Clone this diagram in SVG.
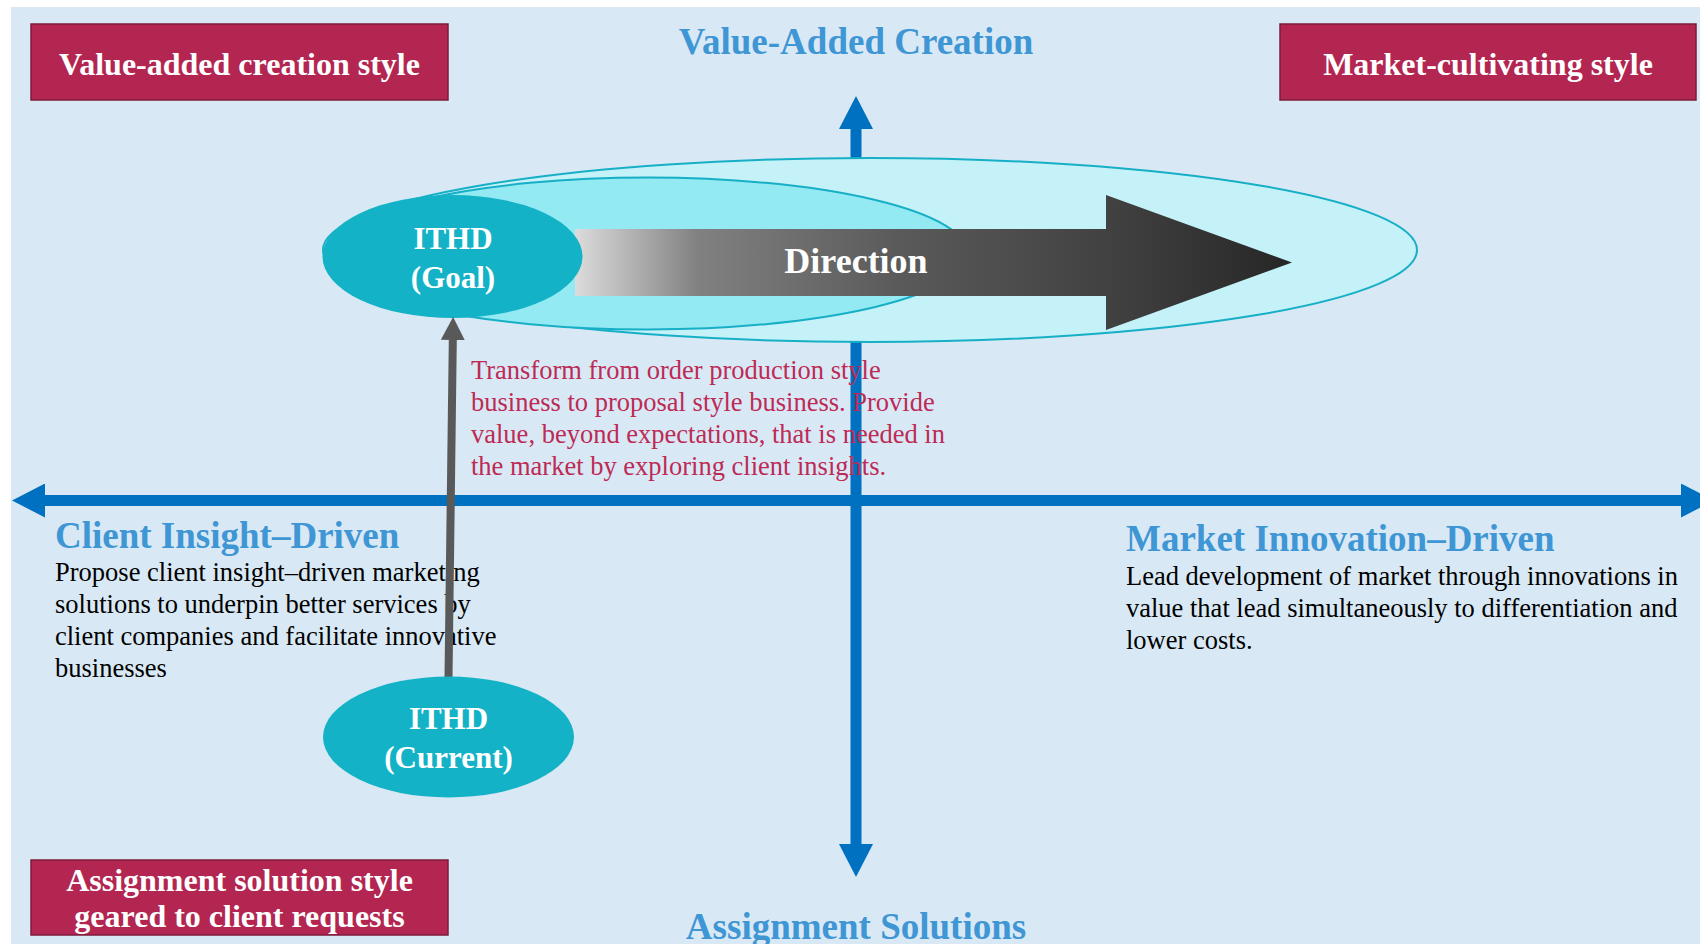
<svg xmlns="http://www.w3.org/2000/svg" width="1700" height="944" viewBox="0 0 1700 944">
  <defs>
    <style>
      .serif { font-family: "Liberation Serif", "Times New Roman", serif; }
      .boxr { fill: #B22651; stroke: #7E1B3B; stroke-width: 1.5; }
      .boxt { font-family: "Liberation Serif", serif; font-weight: bold; font-size: 32px; fill: #FFFFFF; text-anchor: middle; }
      .ithd { font-family: "Liberation Serif", serif; font-weight: bold; font-size: 31px; fill: #FFFFFF; text-anchor: middle; }
      .head { font-family: "Liberation Serif", serif; font-weight: bold; font-size: 37px; fill: #3F96D4; }
      .body { font-family: "Liberation Serif", serif; font-size: 26.5px; fill: #000000; }
      .red { font-family: "Liberation Serif", serif; font-size: 26.5px; fill: #BE2A56; }
      .axis { stroke: #0070C0; stroke-width: 11; fill: none; }
      .node { fill: #13B2C6; }
    </style>
    <marker id="axisHead" markerUnits="userSpaceOnUse" viewBox="0 0 33 34" markerWidth="33" markerHeight="34" refX="0" refY="17" orient="auto-start-reverse">
      <path d="M0,0 L33,17 L0,34 Z" fill="#0070C0"/>
    </marker>
    <marker id="grayHead" markerUnits="userSpaceOnUse" viewBox="0 0 23 24" markerWidth="23" markerHeight="24" refX="0" refY="12" orient="auto">
      <path d="M0,0 L23,12 L0,24 Z" fill="#595959"/>
    </marker>
    <linearGradient id="dirGrad" gradientUnits="userSpaceOnUse" x1="575" y1="0" x2="1292" y2="0">
      <stop offset="0" stop-color="#DCDCDC"/>
      <stop offset="0.17" stop-color="#818181"/>
      <stop offset="0.45" stop-color="#5A5A5A"/>
      <stop offset="0.75" stop-color="#414141"/>
      <stop offset="1" stop-color="#262626"/>
    </linearGradient>
  </defs>

  <rect x="0" y="0" width="1700" height="944" fill="#FFFFFF"/>
  <rect x="11" y="7" width="1689" height="937" fill="#D8E9F5"/>

  <g id="connectors">
    <line id="axis-vertical" class="axis" x1="856" y1="129" x2="856" y2="844" marker-start="url(#axisHead)" marker-end="url(#axisHead)"/>
    <line id="axis-horizontal" class="axis" x1="45" y1="500.5" x2="1681" y2="500.5" marker-start="url(#axisHead)" marker-end="url(#axisHead)"/>
  </g>

  <g id="outer-zone">
    <ellipse cx="870" cy="250" rx="547" ry="92" fill="#C5F1F8" stroke="#17AFC6" stroke-width="2"/>
  </g>
  <g id="inner-zone">
    <ellipse cx="648" cy="253.5" rx="320" ry="76" fill="#93EAF3" stroke="#17AFC6" stroke-width="2"/>
  </g>

  <g id="direction">
    <polygon points="575,229 1106,229 1106,195 1292,262.5 1106,330 1106,296 575,296" fill="url(#dirGrad)"/>
    <text class="serif" x="856" y="273" font-size="36" font-weight="bold" fill="#FFFFFF" text-anchor="middle">Direction</text>
  </g>

  <g id="ithd-goal">
    <ellipse class="node" cx="452.5" cy="256.5" rx="130" ry="61.5"/>
    <text class="ithd" x="453" y="249">ITHD</text>
    <text class="ithd" x="453" y="288">(Goal)</text>
  </g>

  <g id="box-value-added">
    <rect class="boxr" x="31" y="24" width="417" height="76"/>
    <text class="boxt" x="239.5" y="75">Value-added creation style</text>
  </g>
  <g id="box-market-cultivating">
    <rect class="boxr" x="1280" y="24" width="416" height="76"/>
    <text class="boxt" x="1488" y="75">Market-cultivating style</text>
  </g>
  <g id="box-assignment">
    <rect class="boxr" x="31" y="860" width="417" height="75"/>
    <text class="boxt" x="239.5" y="891">Assignment solution style</text>
    <text class="boxt" x="239.5" y="927">geared to client requests</text>
  </g>

  <g id="label-value-added-creation">
    <text class="head" x="856" y="54" text-anchor="middle">Value-Added Creation</text>
  </g>
  <g id="label-assignment-solutions">
    <text class="head" x="856" y="939" text-anchor="middle">Assignment Solutions</text>
  </g>

  <g id="transform-note">
    <text class="red" x="471" y="379">Transform from order production style</text>
    <text class="red" x="471" y="411">business to proposal style business. Provide</text>
    <text class="red" x="471" y="443">value, beyond expectations, that is needed in</text>
    <text class="red" x="471" y="475">the market by exploring client insights.</text>
  </g>

  <g id="client-insight">
    <text class="head" x="55" y="548">Client Insight–Driven</text>
    <text class="body" x="55" y="581">Propose client insight–driven marketing</text>
    <text class="body" x="55" y="613">solutions to underpin better services by</text>
    <text class="body" x="55" y="645">client companies and facilitate innovative</text>
    <text class="body" x="55" y="677">businesses</text>
  </g>

  <g id="market-innovation">
    <text class="head" x="1126" y="551">Market Innovation–Driven</text>
    <text class="body" x="1126" y="585">Lead development of market through innovations in</text>
    <text class="body" x="1126" y="617">value that lead simultaneously to differentiation and</text>
    <text class="body" x="1126" y="649">lower costs.</text>
  </g>

  <g id="connector-current-goal">
    <line x1="448.5" y1="678" x2="452.8" y2="340" stroke="#595959" stroke-width="8" marker-end="url(#grayHead)"/>
  </g>

  <g id="ithd-current">
    <ellipse class="node" cx="448.5" cy="737" rx="125.5" ry="60.5"/>
    <text class="ithd" x="448.5" y="729">ITHD</text>
    <text class="ithd" x="448.5" y="768">(Current)</text>
  </g>
</svg>
